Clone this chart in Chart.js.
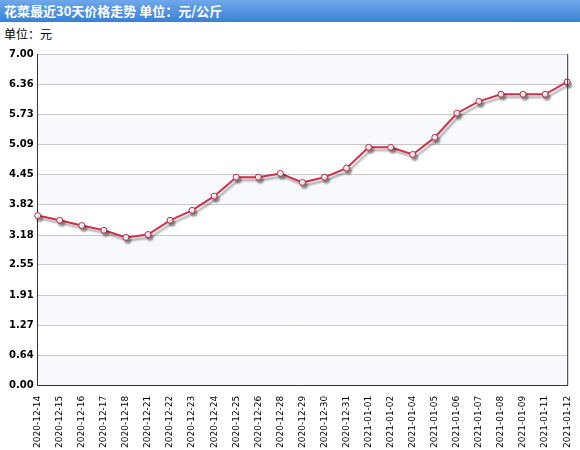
<!DOCTYPE html>
<html><head><meta charset="utf-8">
<script src="https://cdn.jsdelivr.net/npm/chart.js@4"></script>
<style>
body{margin:0;width:580px;height:450px;background:#fff;font-family:"Noto Sans CJK SC",sans-serif;overflow:hidden}
#bar{height:22px;background:linear-gradient(#6fa8ea,#3b7fd6);color:#fff;font-weight:bold;font-size:13px;line-height:22px;padding-left:4px}
#unit{font-size:12px;color:#000;padding:3px 0 0 4px;height:18px}
#wrap{position:absolute;left:0;top:44px;width:580px;height:406px}
</style></head><body>
<div id="bar">花菜最近30天价格走势 单位：元/公斤</div>
<div id="unit">单位：元</div>
<div id="wrap"><canvas id="c"></canvas></div>
<script>
const categories=["2020-12-14","2020-12-15","2020-12-16","2020-12-17","2020-12-18","2020-12-21","2020-12-22","2020-12-23","2020-12-24","2020-12-25","2020-12-26","2020-12-28","2020-12-29","2020-12-30","2020-12-31","2021-01-01","2021-01-02","2021-01-04","2021-01-05","2021-01-06","2021-01-07","2021-01-08","2021-01-09","2021-01-11","2021-01-12"];
const prices=[3.59,3.49,3.38,3.28,3.13,3.19,3.49,3.70,4.00,4.40,4.40,4.48,4.29,4.40,4.59,5.03,5.03,4.88,5.24,5.75,6.00,6.15,6.15,6.15,6.41];
const yTicks=[0.00,0.64,1.27,1.91,2.55,3.18,3.82,4.45,5.09,5.73,6.36,7.00];
const bands={id:'bands',beforeDraw(ch){const {ctx,chartArea:a,scales:{y}}=ch;ctx.save();ctx.fillStyle='#f7f9fd';
for(let i=0;i<yTicks.length-1;i++){if(i%2==0){const t=y.getPixelForValue(yTicks[i+1]),b=y.getPixelForValue(yTicks[i]);ctx.fillRect(a.left,t,a.width,b-t);}}ctx.restore();},
afterDraw(ch){const {ctx,chartArea:a}=ch;ctx.save();ctx.strokeStyle='#333';ctx.lineWidth=1;ctx.beginPath();ctx.moveTo(a.right+0.5,a.top);ctx.lineTo(a.right+0.5,a.bottom);ctx.stroke();ctx.restore();}};
const shadow={id:'shadow',beforeDatasetDraw(ch){const c=ch.ctx;c.save();c.shadowColor='rgba(0,0,0,0.35)';c.shadowOffsetX=2;c.shadowOffsetY=3;c.shadowBlur=2;},afterDatasetDraw(ch){ch.ctx.restore();}};
new Chart(document.getElementById('c'),{type:'line',
data:{labels:categories,datasets:[{data:prices,borderColor:'#d0304a',borderWidth:2,tension:0,pointRadius:3,pointBackgroundColor:'#fff',pointBorderColor:'#c02040',pointBorderWidth:1}]},
options:{responsive:true,maintainAspectRatio:false,animation:false,
layout:{padding:{left:5,right:6,top:6,bottom:0}},
plugins:{legend:{display:false},tooltip:{enabled:false}},
scales:{
x:{offset:false,grid:{display:false},border:{color:'#333'},ticks:{color:'#000',padding:2,font:{size:9,family:'DejaVu Sans'},maxRotation:90,minRotation:90,autoSkip:false}},
y:{min:0,max:7,afterBuildTicks(s){s.ticks=yTicks.map(v=>({value:v}));},grid:{color:'#c8c8c8',drawTicks:false},border:{color:'#333'},
ticks:{color:'#000',padding:4,font:{size:10,weight:'bold',family:'DejaVu Sans'},callback:v=>v.toFixed(2)}}}},
plugins:[bands,shadow]});
</script></body></html>
